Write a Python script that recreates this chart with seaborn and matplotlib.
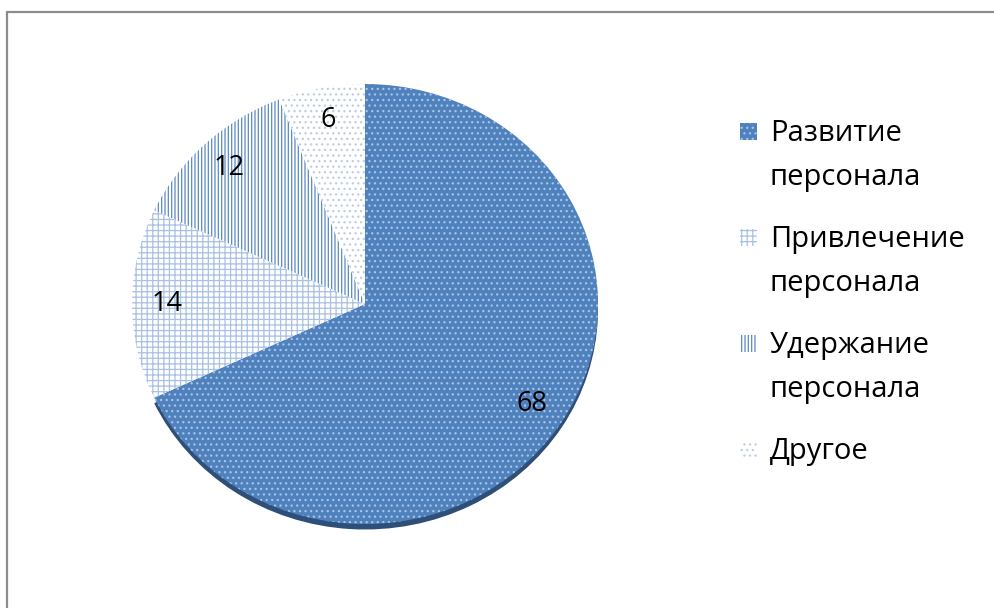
import matplotlib
matplotlib.use("Agg")
import matplotlib.pyplot as plt
import matplotlib.patches as mpatches
from matplotlib.lines import Line2D
import seaborn as sns

categories = ["Развитие персонала", "Привлечение персонала", "Удержание персонала", "Другое"]
legend_lines = [["Развитие", "персонала"], ["Привлечение", "персонала"], ["Удержание", "персонала"], ["Другое"]]
values = [68, 14, 12, 6]

sns.set_theme(style="white")
plt.rcParams['font.family'] = ['Open Sans', 'DejaVu Sans']
plt.rcParams['hatch.linewidth'] = 0.9

W, H = 995, 608
fig = plt.figure(figsize=(W / 100, H / 100), dpi=100)
fig.patch.set_facecolor("white")

faces = ["#4F81BD", "white", "white", "white"]
hatch_cols = ["#A9C3E6", "#A9C1E3", "#5A89C6", "#BCCDE4"]
hatches = ["...", "+++", "|||||", "..."]

cx, cy, rx, ry = 365, 304, 233, 220
ax = fig.add_axes([(cx - rx) / W, 1 - (cy + ry) / H, 2 * rx / W, 2 * ry / H])

total = sum(values)
# shadow of the main slice
sh, _ = ax.pie(values, startangle=90, counterclock=False, center=(0, -0.025),
               colors=["#2E4F78", "none", "none", "none"], wedgeprops=dict(linewidth=0))
for w in sh:
    w.set_zorder(0)

wedges, texts, autotexts = ax.pie(
    values, startangle=90, counterclock=False, colors=faces,
    autopct=lambda p: f"{p * total / 100:.0f}", pctdistance=0.85,
    wedgeprops=dict(linewidth=0),
    textprops=dict(fontsize=19.5, color="black"))
for w, hc, h in zip(wedges, hatch_cols, hatches):
    w.set_hatch(h)
    w.set_edgecolor(hc)
    w.set_linewidth(0)
    w.set_zorder(1)
for t in autotexts:
    t.set_zorder(3)

ax.set_aspect('auto')
ax.set_xlim(-1, 1)
ax.set_ylim(-1, 1)
ax.axis('off')

# legend (manual, handle aligned with first line)
hx, hs = 740, 17
tx = 770
first_baselines = [141, 247, 353, 459]
line_gap = 44
for i, (lines, base) in enumerate(zip(legend_lines, first_baselines)):
    rect = mpatches.Rectangle((hx / W, 1 - (base - 1) / H), hs / W, hs / H,
                              transform=fig.transFigure, facecolor=faces[i],
                              edgecolor=hatch_cols[i], hatch=hatches[i], linewidth=0)
    fig.add_artist(rect)
    for j, ln in enumerate(lines):
        fig.text(tx / W, 1 - (base + j * line_gap) / H, ln, fontsize=21,
                 va='baseline', ha='left', color="black")

# chart frame (partially visible)
fig.add_artist(Line2D([7 / W, 1.0], [1 - 12 / H, 1 - 12 / H], transform=fig.transFigure,
                      color="#8C8C8C", linewidth=1.6))
fig.add_artist(Line2D([7 / W, 7 / W], [0, 1 - 12 / H], transform=fig.transFigure,
                      color="#8C8C8C", linewidth=1.6))

fig.savefig("out.png", dpi=100, facecolor="white")
